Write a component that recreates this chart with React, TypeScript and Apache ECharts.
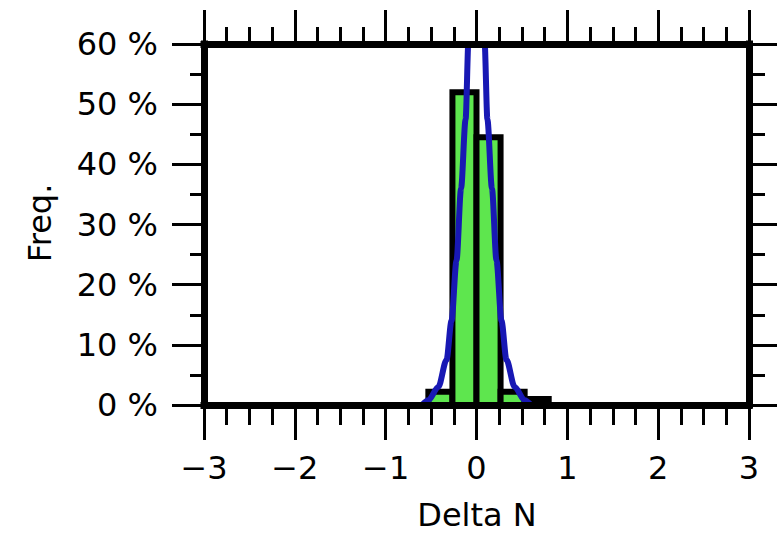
import React, { useEffect, useRef } from "react";
import * as echarts from "echarts";

// Histogram bins (Delta N) and relative frequency (%)
const binEdges = [-0.53, -0.265, 0, 0.265, 0.53, 0.795];
const binFreq = [2.2, 52, 44.5, 2.2, 1.0];

// Fitted curve (x, % )
const curveX = [-0.6, -0.53, -0.42, -0.33, -0.275, -0.22, -0.17, -0.12, -0.088, -0.05, 0, 0.05, 0.088, 0.12, 0.17, 0.22, 0.275, 0.33, 0.42, 0.53, 0.6];
const curveY = [0, 0.8, 3, 7.5, 14, 24, 36, 47.5, 60.7, 68, 72, 68, 60.7, 47.5, 36, 24, 14, 7.5, 3, 0.8, 0];

const xMin = -3;
const xMax = 3;
const yMin = 0;
const yMax = 60;

const FONT = "DejaVu Sans";

export default function App() {
  const ref = useRef<HTMLDivElement>(null);
  useEffect(() => {
    if (!ref.current) return;
    const chart = echarts.init(ref.current, null, { renderer: "svg" });
    const axisLine = { show: true, onZero: false, lineStyle: { color: "#000", width: 7, cap: "square" as const } };
    const xCommon = {
      type: "value" as const,
      min: xMin,
      max: xMax,
      interval: 1,
      splitLine: { show: false },
      z: 5,
    };
    const yCommon = {
      type: "value" as const,
      min: yMin,
      max: yMax,
      interval: 10,
      splitLine: { show: false },
      z: 5,
    };
    const histData = binFreq.map((f, i) => [binEdges[i], binEdges[i + 1], f]);
    const curveData = curveX.map((x, i) => [x, curveY[i]]);
    chart.setOption({
      animation: false,
      backgroundColor: "#fff",
      grid: { left: 204, right: 28, top: 44, bottom: 128, containLabel: false },
      xAxis: [
        {
          ...xCommon,
          position: "bottom",
          axisLine,
          axisTick: { show: true, inside: false, length: 35, lineStyle: { color: "#000", width: 3 } },
          minorTick: { show: true, splitNumber: 4, length: 20, lineStyle: { color: "#000", width: 3 } },
          axisLabel: {
            show: true,
            margin: 47,
            fontSize: 32,
            fontFamily: FONT,
            color: "#000",
            formatter: (v: number) => (v < 0 ? "\u2212" + Math.abs(v) : String(v)),
          },
        },
        {
          ...xCommon,
          position: "top",
          axisLine,
          axisTick: { show: true, inside: false, length: 34, lineStyle: { color: "#000", width: 3 } },
          minorTick: { show: true, splitNumber: 4, length: 17, lineStyle: { color: "#000", width: 3 } },
          axisLabel: { show: false },
        },
      ],
      yAxis: [
        {
          ...yCommon,
          position: "left",
          axisLine,
          axisTick: { show: true, inside: false, length: 32, lineStyle: { color: "#000", width: 3 } },
          minorTick: { show: true, splitNumber: 2, length: 14, lineStyle: { color: "#000", width: 3 } },
          axisLabel: {
            show: true,
            margin: 46,
            fontSize: 32,
            fontFamily: FONT,
            color: "#000",
            formatter: (v: number) => v + " %",
          },
        },
        {
          ...yCommon,
          position: "right",
          axisLine,
          axisTick: { show: true, inside: false, length: 28, lineStyle: { color: "#000", width: 3 } },
          minorTick: { show: true, splitNumber: 2, length: 16, lineStyle: { color: "#000", width: 3 } },
          axisLabel: { show: false },
        },
      ],
      graphic: [
        {
          type: "text",
          x: 477,
          y: 515,
          style: {
            text: "Delta N",
            fontSize: 32,
            fontFamily: FONT,
            fill: "#000",
            align: "center",
            verticalAlign: "middle",
          },
        },
        {
          type: "text",
          x: 40,
          y: 223,
          rotation: Math.PI / 2,
          style: {
            text: "Freq.",
            fontSize: 32,
            fontFamily: FONT,
            fill: "#000",
            align: "center",
            verticalAlign: "middle",
          },
        },
      ],
      series: [
        {
          type: "custom",
          xAxisIndex: 0,
          yAxisIndex: 0,
          clip: true,
          z: 2,
          encode: { x: [0, 1], y: 2 },
          data: histData,
          renderItem: (params: any, api: any) => {
            const p0 = api.coord([api.value(0), api.value(2)]);
            const p1 = api.coord([api.value(1), 0]);
            return {
              type: "rect",
              shape: { x: p0[0], y: p0[1], width: p1[0] - p0[0], height: p1[1] - p0[1] },
              style: { fill: "#5ee64e", stroke: "#000", lineWidth: 6 },
            };
          },
        },
        {
          type: "line",
          xAxisIndex: 0,
          yAxisIndex: 0,
          data: curveData,
          smooth: 0.3,
          smoothMonotone: "x",
          showSymbol: false,
          symbol: "none",
          clip: true,
          z: 3,
          lineStyle: { color: "#1818b4", width: 6 },
        },
      ],
    });
    return () => chart.dispose();
  }, []);
  return (
    <div
      ref={ref}
      style={{ position: "absolute", left: 0, top: 0, width: 777, height: 533, background: "#fff" }}
    />
  );
}
